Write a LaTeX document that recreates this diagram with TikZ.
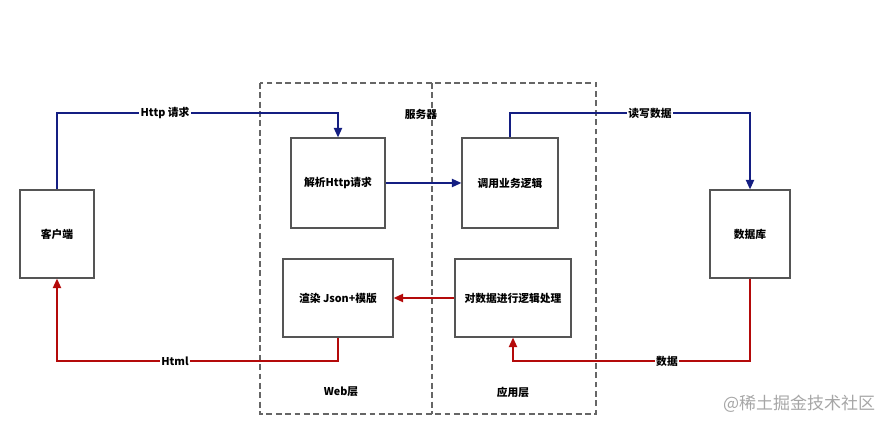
\documentclass[tikz,border=0pt]{standalone}
\usepackage{fontspec}
\setmainfont{Noto Sans CJK SC}
\usetikzlibrary{arrows.meta}
\definecolor{reqblue}{RGB}{20,30,130}
\definecolor{resred}{RGB}{180,10,10}
\definecolor{boxgray}{RGB}{85,85,85}
\tikzset{
	box/.style={draw=boxgray, line width=1.1pt, fill=white, font=\fontsize{9.2}{11}\selectfont\bfseries, inner sep=0pt},
	req/.style={draw=reqblue, line width=1.1pt, -{Triangle[length=8pt, width=7pt]}},
	res/.style={draw=resred, line width=1.1pt, -{Triangle[length=8pt, width=7pt]}},
	lbl/.style={fill=white, inner sep=1pt, font=\fontsize{9.2}{11}\selectfont\bfseries},
	layer/.style={draw=boxgray!90, line width=1.2pt, dash pattern=on 5pt off 3pt}
}
\begin{document}
\begin{tikzpicture}[x=0.03cm, y=-0.03cm]
	\useasboundingbox (0,0) rectangle (895,429);
	% Server
	\draw [layer] (260,83) rectangle (596,414);
	\draw [layer] (432,83) -- (432,414);
	\node [lbl] (server) at (421,114) {服务器};
	\node [lbl] (web) at (341,392) {Web层};
	\node [lbl] (app) at (513,392) {应用层};
	% Boxes
	\node [box, minimum width=2.22cm, minimum height=2.64cm] (client) at (57,234) {客户端};
	\node [box, minimum width=2.82cm, minimum height=2.70cm] (parse) at (338,183) {解析Http请求};
	\node [box, minimum width=2.88cm, minimum height=2.70cm] (invoke) at (510,183) {调用业务逻辑};
	\node [box, minimum width=2.40cm, minimum height=2.64cm] (db) at (750,234) {数据库};
	\node [box, minimum width=3.30cm, minimum height=2.34cm] (render) at (338,298) {渲染 Json+模版};
	\node [box, minimum width=3.48cm, minimum height=2.34cm] (process) at (513,298) {对数据进行逻辑处理};
	% Request
	\coordinate (httpc) at (338,113);
	\coordinate (rwc) at (510,113);
	\draw [req] (client.north) |- (httpc) -- (parse.north);
	\draw [req] (parse.east) -- (invoke.west);
	\draw [req] (invoke.north) -- (rwc) -| (db.north);
	\node [lbl] (http) at (165,113) {Http 请求};
	\node [lbl] (rw) at (650,113) {读写数据};
	% Response
	\coordinate (htmlc) at (338,361);
	\coordinate (datac) at (513,361);
	\draw [res] (db.south) |- (datac) -- (process.south);
	\draw [res] (process.west) -- (render.east);
	\draw [res] (render.south) -- (htmlc) -| (client.south);
	\node [lbl] (html) at (175,361) {Html};
	\node [lbl] (data) at (667,361) {数据};
	% Mark
	\node [text=black!35, font=\fontsize{14.5}{16}\selectfont] (mark) at (799,404) {@稀土掘金技术社区};
\end{tikzpicture}
\end{document}
